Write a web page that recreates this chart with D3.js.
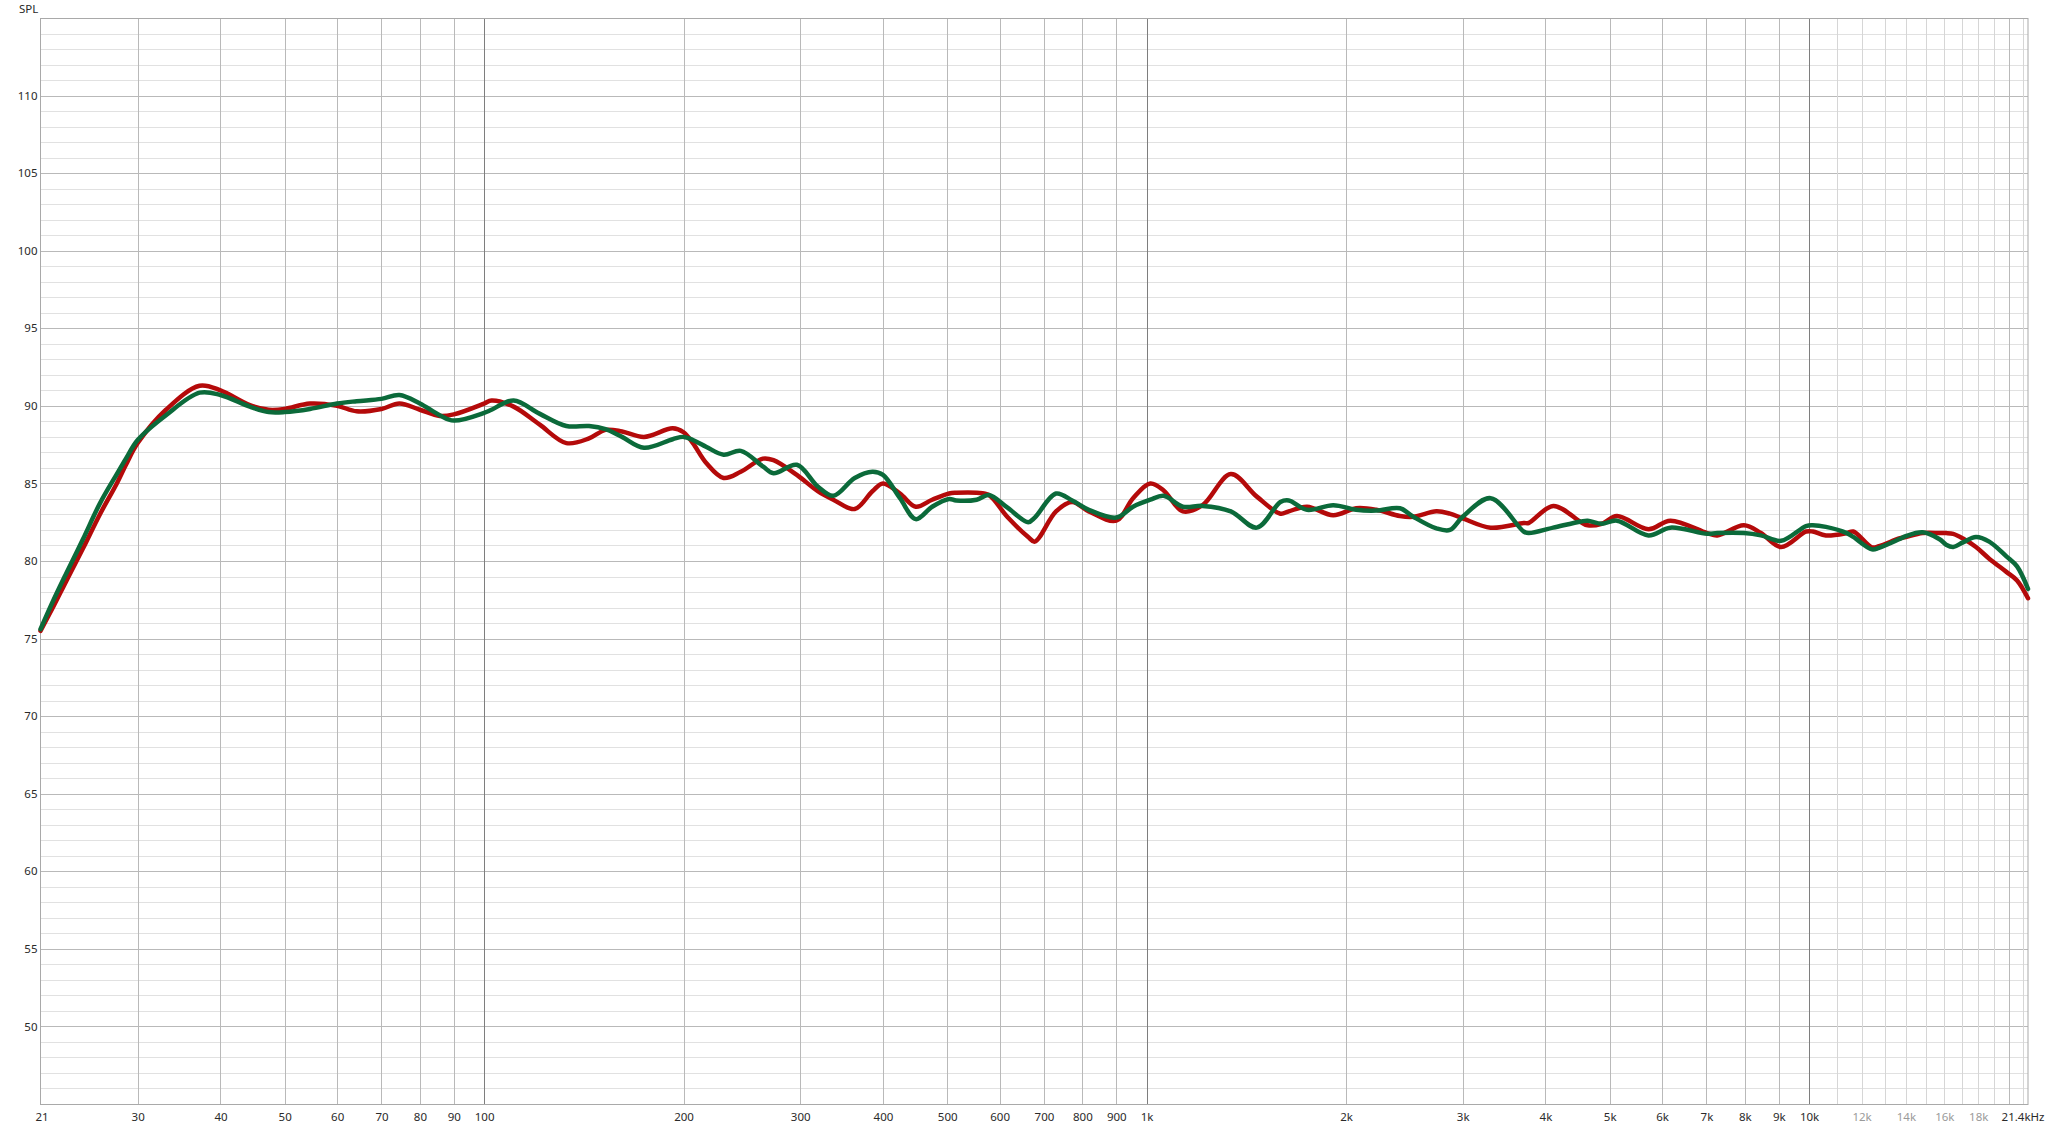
<!DOCTYPE html>
<html>
<head>
<meta charset="utf-8">
<script src="https://cdn.jsdelivr.net/npm/d3@7"></script>
<style>
  html, body { margin: 0; padding: 0; background: #ffffff; }
  svg { display: block; }
  text { font-family: "Noto Sans", "Open Sans", sans-serif; }
</style>
</head>
<body>
<svg id="chart" width="2048" height="1129"></svg>
<script>
// ---- Data ----
const freqs = [21.4, 22.4, 23.4, 24.8, 26.3, 27.9, 28.8, 30, 33.1, 37.2, 40, 44.3, 47.3, 50, 54.6, 60, 64.2, 70, 74.5, 80, 85.7, 90,
  100, 102.6, 110.8, 121.2, 133.1, 144, 152.5, 161.5, 174.3, 192.6, 200, 206.6, 216.6, 229.9, 244, 263.5, 273.4, 296.5,
  318.9, 336.6, 362.6, 385.6, 400, 424.4, 448.3, 474.6, 503.4, 516, 554, 578, 616, 662.6, 678, 730, 772, 818, 900, 954,
  1013, 1061, 1134, 1215, 1340, 1467, 1592, 1639, 1747, 1913, 2072, 2222, 2412, 2527, 2738, 2870, 3000, 3306, 3708, 3773,
  4110, 4526, 4632, 4863, 5128, 5722, 6174, 7017, 7268, 7973, 8458, 9072, 9893, 10130, 10600, 11400, 11660, 12440, 12750,
  13670, 13990, 14840, 15740, 16100, 16500, 17070, 17860, 18700, 19850, 20600, 21400];

const redSPL = [75.5, 77.1, 78.7, 80.8, 83.0, 85.0, 86.2, 87.6, 89.75, 91.3, 91.0, 90.05, 89.75, 89.8, 90.15, 90.0, 89.65, 89.8, 90.15, 89.75, 89.35, 89.45,
  90.15, 90.35, 89.95, 88.8, 87.6, 87.9, 88.45, 88.35, 88.0, 88.55, 88.3, 87.6, 86.3, 85.35, 85.75, 86.6, 86.5, 85.55,
  84.5, 83.95, 83.35, 84.5, 85.0, 84.35, 83.5, 83.95, 84.35, 84.4, 84.4, 84.25, 82.85, 81.55, 81.25, 83.2, 83.8, 83.2, 82.6, 84.05,
  85.0, 84.55, 83.2, 83.6, 85.6, 84.15, 83.05, 83.2, 83.5, 82.95, 83.4, 83.3, 82.9, 82.85, 83.2, 83.05, 82.75, 82.15, 82.45, 82.45,
  83.55, 82.5, 82.3, 82.4, 82.9, 82.05, 82.6, 81.8, 81.65, 82.3, 81.8, 80.9, 81.9, 81.9, 81.65, 81.8, 81.9, 80.88, 80.95,
  81.45, 81.55, 81.8, 81.8, 81.8, 81.75, 81.45, 80.9, 80.15, 79.3, 78.75, 77.6];

const greenSPL = [75.6, 77.5, 79.2, 81.4, 83.7, 85.6, 86.6, 87.8, 89.4, 90.85, 90.7, 89.95, 89.6, 89.6, 89.8, 90.15, 90.3, 90.45, 90.7, 90.15, 89.4, 89.05,
  89.55, 89.75, 90.35, 89.5, 88.7, 88.7, 88.5, 88.0, 87.3, 87.85, 88.0, 87.8, 87.35, 86.85, 87.1, 86.1, 85.65, 86.2,
  84.8, 84.2, 85.35, 85.75, 85.55, 84.05, 82.7, 83.5, 84.0, 83.9, 83.95, 84.25, 83.45, 82.5, 82.8, 84.35, 83.9, 83.3, 82.8, 83.5,
  83.95, 84.2, 83.5, 83.55, 83.2, 82.15, 83.8, 83.9, 83.3, 83.6, 83.3, 83.25, 83.4, 82.85, 82.1, 82.0, 82.85, 84.05, 81.9, 81.8,
  82.15, 82.55, 82.6, 82.4, 82.6, 81.65, 82.15, 81.75, 81.8, 81.8, 81.65, 81.3, 82.25, 82.3, 82.2, 81.8, 81.55, 80.75, 80.85,
  81.4, 81.6, 81.85, 81.4, 81.05, 80.9, 81.2, 81.55, 81.25, 80.3, 79.65, 78.2];

const yTicks = [50, 55, 60, 65, 70, 75, 80, 85, 90, 95, 100, 105, 110];
const xTickValues = [21.4, 30, 40, 50, 60, 70, 80, 90, 100, 200, 300, 400, 500, 600, 700, 800, 900,
  1000, 2000, 3000, 4000, 5000, 6000, 7000, 8000, 9000, 10000, 12000, 14000, 16000, 18000, 21400];
const xTickLabels = ["21", "30", "40", "50", "60", "70", "80", "90", "100", "200", "300", "400", "500", "600", "700", "800", "900",
  "1k", "2k", "3k", "4k", "5k", "6k", "7k", "8k", "9k", "10k", "12k", "14k", "16k", "18k", "21.4kHz"];
const faintLabels = ["12k", "14k", "16k", "18k"];
const yAxisTitle = "SPL";

// ---- Layout ----
const W = 2048, H = 1129;
const L = 40.5, R = 2028, T = 18, B = 1104;
const svg = d3.select("#chart");

const x = d3.scaleLog().domain([21.4, 21400]).range([L, R]);
const y = d3.scaleLinear().domain([45, 115]).range([B, T]);

// ---- Horizontal gridlines (every 1 dB) ----
const hg = svg.append("g");
d3.range(46, 115).forEach(v => {
  const yy = Math.round(y(v)) + 0.5;
  hg.append("line")
    .attr("x1", L).attr("x2", R).attr("y1", yy).attr("y2", yy)
    .attr("stroke", v % 5 === 0 ? "#b9b9b9" : "#e1e1e1")
    .attr("stroke-width", 1);
});

// ---- Vertical gridlines ----
const vLines = [];
[10, 100, 1000].forEach(dec => {
  for (let m = (dec === 10 ? 3 : 1); m <= 9; m++) vLines.push(m * dec);
});
vLines.push(10000);
for (let k = 11; k <= 21; k++) vLines.push(k * 1000);
const vg = svg.append("g");
vLines.forEach(f => {
  let col = "#b9b9b9";
  if (f === 100 || f === 1000 || f === 10000) col = "#7e7e7e";
  else if (f > 10000 && f !== 20000) col = "#d6d6d6";
  const xx = Math.round(x(f)) + 0.5;
  vg.append("line")
    .attr("x1", xx).attr("x2", xx).attr("y1", T).attr("y2", B)
    .attr("stroke", col).attr("stroke-width", 1);
});

// ---- Frame ----
svg.append("rect")
  .attr("x", L).attr("y", T + 0.5).attr("width", R - L).attr("height", B - T)
  .attr("fill", "none").attr("stroke", "#a9a9a9").attr("stroke-width", 1);

// ---- Y axis labels ----
const yAxis = d3.axisLeft(y).tickValues(yTicks).tickSize(0).tickPadding(3).tickFormat(d3.format("d"));
const gy = svg.append("g").attr("transform", `translate(${L},0)`).call(yAxis);
gy.select(".domain").remove();
gy.selectAll("text").attr("fill", "#2a2a2a").style("font-size", "11.5px")
  .style("font-family", '"Noto Sans", "Open Sans", sans-serif');

svg.append("text").attr("x", 19).attr("y", 12.5).text(yAxisTitle)
  .attr("fill", "#2a2a2a").style("font-size", "11.5px");

// ---- X axis labels ----
const xAxis = d3.axisBottom(x).tickValues(xTickValues).tickSize(0).tickPadding(9)
  .tickFormat((d, i) => xTickLabels[i]);
const gx = svg.append("g").attr("transform", `translate(0,${B})`).call(xAxis);
gx.select(".domain").remove();
gx.selectAll("text")
  .style("font-size", "11.5px")
  .style("font-family", '"Noto Sans", "Open Sans", sans-serif')
  .attr("fill", (d, i) => faintLabels.includes(xTickLabels[i]) ? "#9a9a9a" : "#2a2a2a")
  .attr("text-anchor", (d, i) => i === xTickLabels.length - 1 ? "end" : "middle")
  .attr("dx", (d, i) => i === xTickLabels.length - 1 ? 16 : 0)
  .attr("x", (d, i) => i === 0 ? 1 : 0);

// ---- Curves ----
const line = d3.line()
  .x((d, i) => x(freqs[i]))
  .y(d => y(d))
  .curve(d3.curveCatmullRom.alpha(0.5));

svg.append("path").datum(redSPL)
  .attr("d", line).attr("fill", "none")
  .attr("stroke", "#b40a0a").attr("stroke-width", 4.5)
  .attr("stroke-linejoin", "round").attr("stroke-linecap", "round");

svg.append("path").datum(greenSPL)
  .attr("d", line).attr("fill", "none")
  .attr("stroke", "#0b6a3a").attr("stroke-width", 4.5)
  .attr("stroke-linejoin", "round").attr("stroke-linecap", "round");
</script>
</body>
</html>
